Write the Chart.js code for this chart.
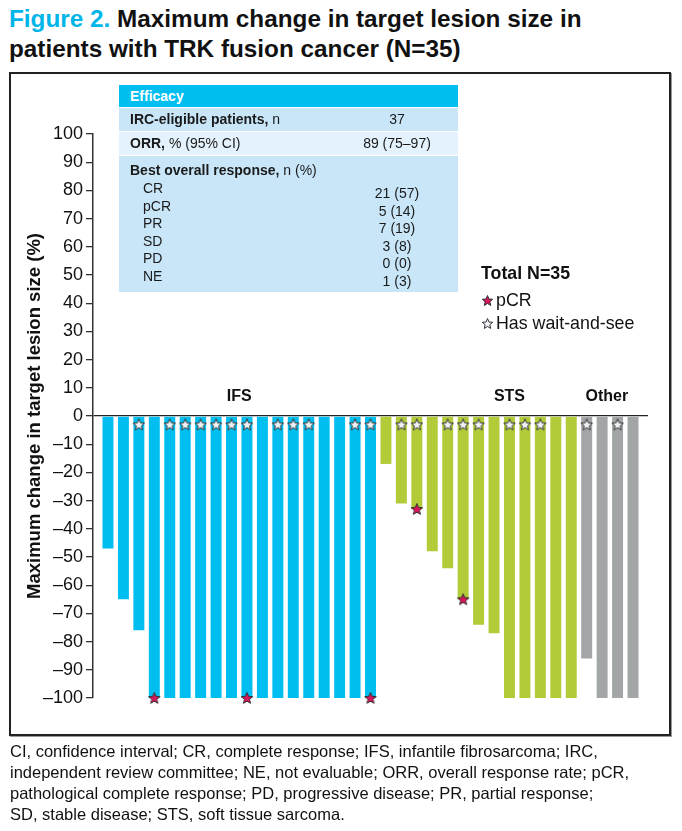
<!DOCTYPE html>
<html>
<head>
<meta charset="utf-8">
<script src="https://cdn.jsdelivr.net/npm/chart.js@4"></script>
<style>
  html, body { margin:0; padding:0; background:#fff; }
  body { width:682px; height:831px; position:relative; overflow:hidden; font-family:"Liberation Sans", Arial, sans-serif; color:#111; }
  #title { position:absolute; left:9px; top:4px; font-weight:bold; font-size:24.3px; line-height:30px; color:#111; white-space:nowrap; }
  #title .fig { color:#00B5E8; }
  #box { position:absolute; left:9px; top:72px; width:658px; height:660px; border:2px solid #222; box-shadow:1px 1px 0 #999; }
  #chartWrap { position:absolute; left:0; top:0; width:682px; height:831px; }
  #tbl { position:absolute; left:119px; top:85px; width:339px; font-size:14px; color:#1a1a1a; }
  #tbl .hdr { background:#00BEF0; color:#fff; font-weight:bold; height:22px; line-height:23px; padding-left:11px; margin-bottom:1px; }
  #tbl .row { position:relative; height:23px; line-height:23px; padding-left:11px; margin-bottom:1px; background:#C8E6F8; }
  #tbl .row.alt { background:#E3F2FC; }
  #tbl .row .val { position:absolute; left:238px; width:80px; text-align:center; top:0; }
  #tbl .block { position:relative; height:136px; background:#C8E6F8; }
  #tbl .block .t { position:absolute; left:11px; top:6px; }
  #tbl .block .it { position:absolute; left:24px; }
  #tbl .block .v { position:absolute; left:238px; width:80px; text-align:center; }
  #legend { position:absolute; left:481px; top:262px; font-size:17.8px; color:#111; }
  #legend .lt { font-weight:bold; height:27px; line-height:22px; }
  #legend .li { height:23px; line-height:23px; position:relative; padding-left:15px; }
  #legend .li canvas { position:absolute; left:0; top:5px; }
  #foot { position:absolute; left:10px; top:741px; font-size:16.5px; line-height:21px; color:#111; white-space:nowrap; }
</style>
</head>
<body>
<div id="title"><span class="fig">Figure 2.</span> Maximum change in target lesion size in<br>patients with TRK fusion cancer (N=35)</div>
<div id="box"></div>
<div id="chartWrap"><canvas id="c" width="682" height="831"></canvas></div>
<div id="tbl"></div>
<div id="legend"></div>
<div id="foot"></div>
<script>
// ---------------- DATA ----------------
const groupNames = ["IFS", "STS", "Other"];
const ifsValues   = [-47, -65, -76, -100, -100, -100, -100, -100, -100, -100, -100, -100, -100, -100, -100, -100, -100, -100];
const stsValues   = [-17, -31, -33, -48, -54, -65, -74, -77, -100, -100, -100, -100, -100];
const otherValues = [-86, -100, -100, -100];
// patient positions (0-based, across all 35 bars) with markers
const pcrPatients        = [3, 9, 17, 20, 23];
const waitAndSeePatients = [2, 4, 5, 6, 7, 8, 9, 11, 12, 13, 16, 17, 19, 20, 22, 23, 24, 26, 27, 28, 31, 33];
const yTicks = [100, 90, 80, 70, 60, 50, 40, 30, 20, 10, 0, -10, -20, -30, -40, -50, -60, -70, -80, -90, -100];

const tableHeader = "Efficacy";
const tableRows = [
  { bold: "IRC-eligible patients,", rest: " n", value: "37" },
  { bold: "ORR,", rest: " % (95% CI)", value: "89 (75–97)" }
];
const borTitle = { bold: "Best overall response,", rest: " n (%)" };
const borLabels = ["CR", "pCR", "PR", "SD", "PD", "NE"];
const borValues = ["21 (57)", "5 (14)", "7 (19)", "3 (8)", "0 (0)", "1 (3)"];

const legendTitle = "Total N=35";
const legendItems = ["pCR", "Has wait-and-see"];

const footLines = [
  "CI, confidence interval; CR, complete response; IFS, infantile fibrosarcoma; IRC,",
  "independent review committee; NE, not evaluable; ORR, overall response rate; pCR,",
  "pathological complete response; PD, progressive disease; PR, partial response;",
  "SD, stable disease; STS, soft tissue sarcoma."
];

// ---------------- STYLE ----------------
const groupColors = ["#00BEF0", "#B1CB39", "#A3A6A7"];
const groupLabelPos = [8.5, 26, 32.3];

// ---------------- BUILD ----------------
const allValues = ifsValues.concat(stsValues, otherValues);
const groupOf = [];
ifsValues.forEach(() => groupOf.push(0));
stsValues.forEach(() => groupOf.push(1));
otherValues.forEach(() => groupOf.push(2));
const barData = allValues.map((v, i) => ({ x: i, y: v }));
const barColors = groupOf.map(g => groupColors[g]);

function makeStar(size, fill, stroke) {
  const c = document.createElement('canvas');
  c.width = size; c.height = size;
  const ctx = c.getContext('2d');
  const cx = size / 2, cy = size / 2 + 0.5, R = size / 2 - 1, r = R * 0.45;
  ctx.beginPath();
  for (let k = 0; k < 10; k++) {
    const ang = -Math.PI / 2 + k * Math.PI / 5;
    const rad = k % 2 === 0 ? R : r;
    const px = cx + rad * Math.cos(ang), py = cy + rad * Math.sin(ang);
    if (k === 0) ctx.moveTo(px, py); else ctx.lineTo(px, py);
  }
  ctx.closePath();
  ctx.fillStyle = fill; ctx.fill();
  ctx.lineWidth = 1; ctx.strokeStyle = stroke; ctx.stroke();
  return c;
}
const redStar = makeStar(14, "#D8145C", "#333");
const whiteStar = makeStar(14, "#EEF2F7", "#333");

const pcrData = pcrPatients.map(i => ({ x: i, y: allValues[i] }));
const wsData = waitAndSeePatients.map(i => ({ x: i, y: -3 }));

const groupLabelPlugin = {
  id: 'groupLabels',
  afterDatasetsDraw(chart) {
    const { ctx, scales } = chart;
    const y0 = scales.y.getPixelForValue(0);
    ctx.save();
    ctx.font = "bold 16px 'Liberation Sans', Arial, sans-serif";
    ctx.fillStyle = "#111";
    ctx.textAlign = "center";
    ctx.textBaseline = "middle";
    groupNames.forEach((n, k) => {
      ctx.fillText(n, scales.x.getPixelForValue(groupLabelPos[k]), y0 - 19);
    });
    ctx.restore();
  }
};

new Chart(document.getElementById('c'), {
  data: {
    datasets: [
      { type: 'scatter', data: pcrData, pointStyle: redStar, order: 0, clip: false },
      { type: 'scatter', data: wsData, pointStyle: whiteStar, order: 1, clip: false },
      { type: 'bar', data: barData, backgroundColor: barColors, borderWidth: 0,
        categoryPercentage: 1, barPercentage: 0.71, order: 2 }
    ]
  },
  options: {
    responsive: false,
    devicePixelRatio: 1,
    animation: false,
    layout: { padding: { left: 12, top: 134, right: 34, bottom: 133 } },
    plugins: { legend: { display: false }, tooltip: { enabled: false } },
    scales: {
      x: { type: 'linear', display: false, offset: false, min: -0.97, max: 34.97, grid: { offset: false } },
      y: {
        min: -100, max: 100,
        afterBuildTicks(scale) { scale.ticks = yTicks.map(v => ({ value: v })); },
        afterFit(scale) { scale.width = 81; },
        border: { display: true, color: '#333', width: 1.5 },
        grid: {
          drawOnChartArea: true,
          color: c => (c.tick && c.tick.value === 0) ? '#222' : 'rgba(0,0,0,0)',
          lineWidth: 1.3,
          tickColor: '#333',
          tickLength: 7
        },
        ticks: {
          padding: 3,
          color: '#111',
          font: { family: "'Liberation Sans', Arial, sans-serif", size: 18 },
          callback: v => String(v).replace('-', '–')
        },
        title: {
          display: true,
          text: 'Maximum change in target lesion size (%)',
          color: '#111',
          font: { family: "'Liberation Sans', Arial, sans-serif", size: 18.5, weight: 'bold' },
          padding: { top: 12, bottom: 0 }
        }
      }
    }
  },
  plugins: [groupLabelPlugin]
});

// ---------------- TABLE / LEGEND / FOOTNOTE ----------------
const tbl = document.getElementById('tbl');
let h = '<div class="hdr">' + tableHeader + '</div>';
tableRows.forEach((r, i) => {
  h += '<div class="row' + (i === 1 ? ' alt' : '') + '"><b>' + r.bold + '</b>' + r.rest +
       '<span class="val">' + r.value + '</span></div>';
});
h += '<div class="block"><div class="t"><b>' + borTitle.bold + '</b>' + borTitle.rest + '</div>';
borLabels.forEach((l, i) => {
  h += '<div class="it" style="top:' + (24 + i * 17.5) + 'px">' + l + '</div>';
  h += '<div class="v" style="top:' + (29 + i * 17.5) + 'px">' + borValues[i] + '</div>';
});
h += '</div>';
tbl.innerHTML = h;

const lg = document.getElementById('legend');
lg.innerHTML = '<div class="lt">' + legendTitle + '</div>' +
  legendItems.map(t => '<div class="li">' + t + '</div>').join('');
const lis = lg.querySelectorAll('.li');
[redStar, whiteStar].forEach((s, i) => {
  const c = makeStar(13, i === 0 ? "#D8145C" : "#EEF2F7", "#333");
  lis[i].insertBefore(c, lis[i].firstChild);
});

document.getElementById('foot').innerHTML = footLines.join('<br>');
</script>
</body>
</html>
